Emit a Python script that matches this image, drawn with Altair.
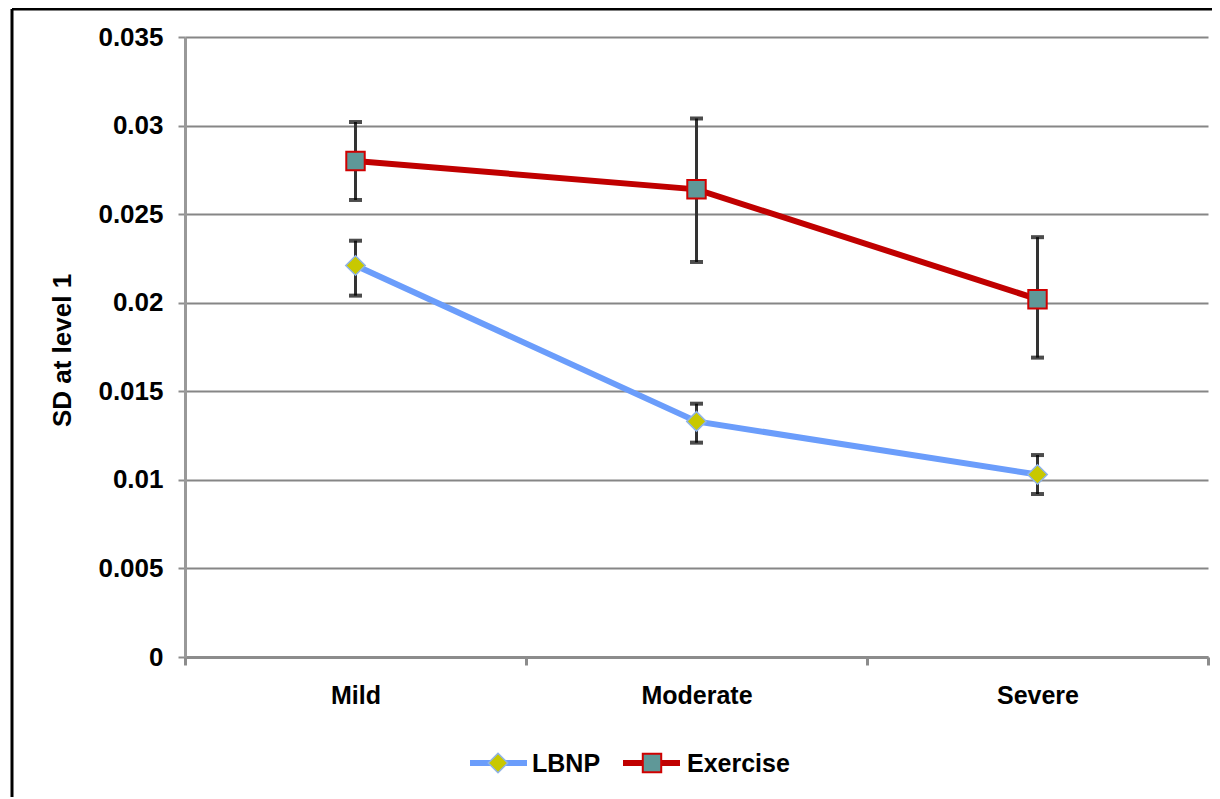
import altair as alt
import pandas as pd

categories = ["Mild", "Moderate", "Severe"]
series_names = ["LBNP", "Exercise"]
lbnp_mean = [0.0221, 0.0133, 0.0103]
lbnp_low = [0.0204, 0.0121, 0.0092]
lbnp_high = [0.0235, 0.0143, 0.0114]
exercise_mean = [0.0280, 0.0264, 0.0202]
exercise_low = [0.0258, 0.0223, 0.0169]
exercise_high = [0.0302, 0.0304, 0.0237]
y_ticks = [0, 0.005, 0.01, 0.015, 0.02, 0.025, 0.03, 0.035]

FONT = "Liberation Sans"
FS = 25

styles = {
    "LBNP": dict(line="#6b9dfb", shape="diamond", fill="#c8c800", stroke="#8fb3e8", sw=1.5, size=380),
    "Exercise": dict(line="#c00000", shape="square", fill="#5f9898", stroke="#d00000", sw=2, size=340),
}

frames = []
for name, m, lo, hi in [("LBNP", lbnp_mean, lbnp_low, lbnp_high),
                        ("Exercise", exercise_mean, exercise_low, exercise_high)]:
    frames.append(pd.DataFrame({"cat": categories, "series": name, "val": m, "lo": lo, "hi": hi}))
df = pd.concat(frames, ignore_index=True)

x_enc = alt.X("cat:N", sort=categories,
              scale=alt.Scale(type="band", paddingInner=0, paddingOuter=0),
              axis=alt.Axis(title=None, tickBand="extent", labelAngle=0, grid=False,
                            domainColor="#8c8c8c", domainWidth=3, tickColor="#8c8c8c",
                            tickWidth=3, tickSize=8, labelFont=FONT, labelFontSize=FS,
                            labelFontWeight="bold", labelColor="black", labelPadding=18))

def y_enc(field):
    return alt.Y(f"{field}:Q",
                 scale=alt.Scale(domain=[0, 0.035], nice=False, zero=True),
                 axis=alt.Axis(values=y_ticks, format="~g", title="SD at level 1", grid=True,
                               gridColor="#868686", gridWidth=2,
                               domainColor="#999999", domainWidth=3, tickColor="#8c8c8c",
                               tickWidth=2, tickSize=7, labelFont=FONT, labelFontSize=26,
                               labelFontWeight="bold", labelColor="black", labelPadding=15,
                               titleFont=FONT, titleFontSize=26, titleFontWeight="bold",
                               titleColor="black", titleAngle=270, titleX=-123, titleY=313,
                               titleAlign="center", titleBaseline="middle"))

layers = []
for name in series_names:
    st = styles[name]
    base = alt.Chart(df).transform_filter(alt.datum.series == name)
    layers.append(base.mark_line(color=st["line"], strokeWidth=6).encode(x=x_enc, y=y_enc("val")))
for name in series_names:
    base = alt.Chart(df).transform_filter(alt.datum.series == name)
    layers.append(base.mark_rule(color="#333333", strokeWidth=3).encode(
        x=x_enc, y=y_enc("lo"), y2="hi:Q"))
    layers.append(base.mark_tick(color="black", size=13, thickness=4, orient="horizontal").encode(
        x=x_enc, y=y_enc("lo")))
    layers.append(base.mark_tick(color="black", size=13, thickness=4, orient="horizontal").encode(
        x=x_enc, y=y_enc("hi")))
for name in series_names:
    st = styles[name]
    base = alt.Chart(df).transform_filter(alt.datum.series == name)
    layers.append(base.mark_point(shape=st["shape"], filled=True, fill=st["fill"], stroke=st["stroke"],
                                  strokeWidth=st["sw"], size=st["size"], opacity=1).encode(
        x=x_enc, y=y_enc("val")))

# legend (decoration)
one = pd.DataFrame({"k": [0]})
leg_y = 726
leg_pos = {"LBNP": (285, 342, 313, 347), "Exercise": (438, 495, 467, 502)}
for name in series_names:
    st = styles[name]
    x1, x2, xm, xt = leg_pos[name]
    lc = alt.Chart(one)
    layers.append(lc.mark_rule(color=st["line"], strokeWidth=6).encode(
        x=alt.value(x1), x2=alt.value(x2), y=alt.value(leg_y)))
    layers.append(lc.mark_point(shape=st["shape"], filled=True, fill=st["fill"], stroke=st["stroke"],
                                strokeWidth=st["sw"], size=st["size"], opacity=1).encode(
        x=alt.value(xm), y=alt.value(leg_y)))
    layers.append(lc.mark_text(text=name, font=FONT, fontSize=FS, fontWeight="bold", color="black",
                               align="left", baseline="middle").encode(
        x=alt.value(xt), y=alt.value(leg_y + 1)))

# outer frame (decoration)
fr = alt.Chart(one)
layers.append(fr.mark_rule(color="black", strokeWidth=3).encode(
    x=alt.value(-173), y=alt.value(-28), y2=alt.value(770)))
layers.append(fr.mark_rule(color="black", strokeWidth=3).encode(
    x=alt.value(-173), x2=alt.value(1040), y=alt.value(-28)))

chart = alt.layer(*layers).properties(
    width=1023, height=620,
    padding={"left": 177, "top": 29, "right": 4, "bottom": 140},
    autosize=alt.AutoSizeParams(type="none"),
    background="white",
).configure_view(stroke=None)

chart.save("out.html", embed_options={"renderer": "svg", "actions": False})
